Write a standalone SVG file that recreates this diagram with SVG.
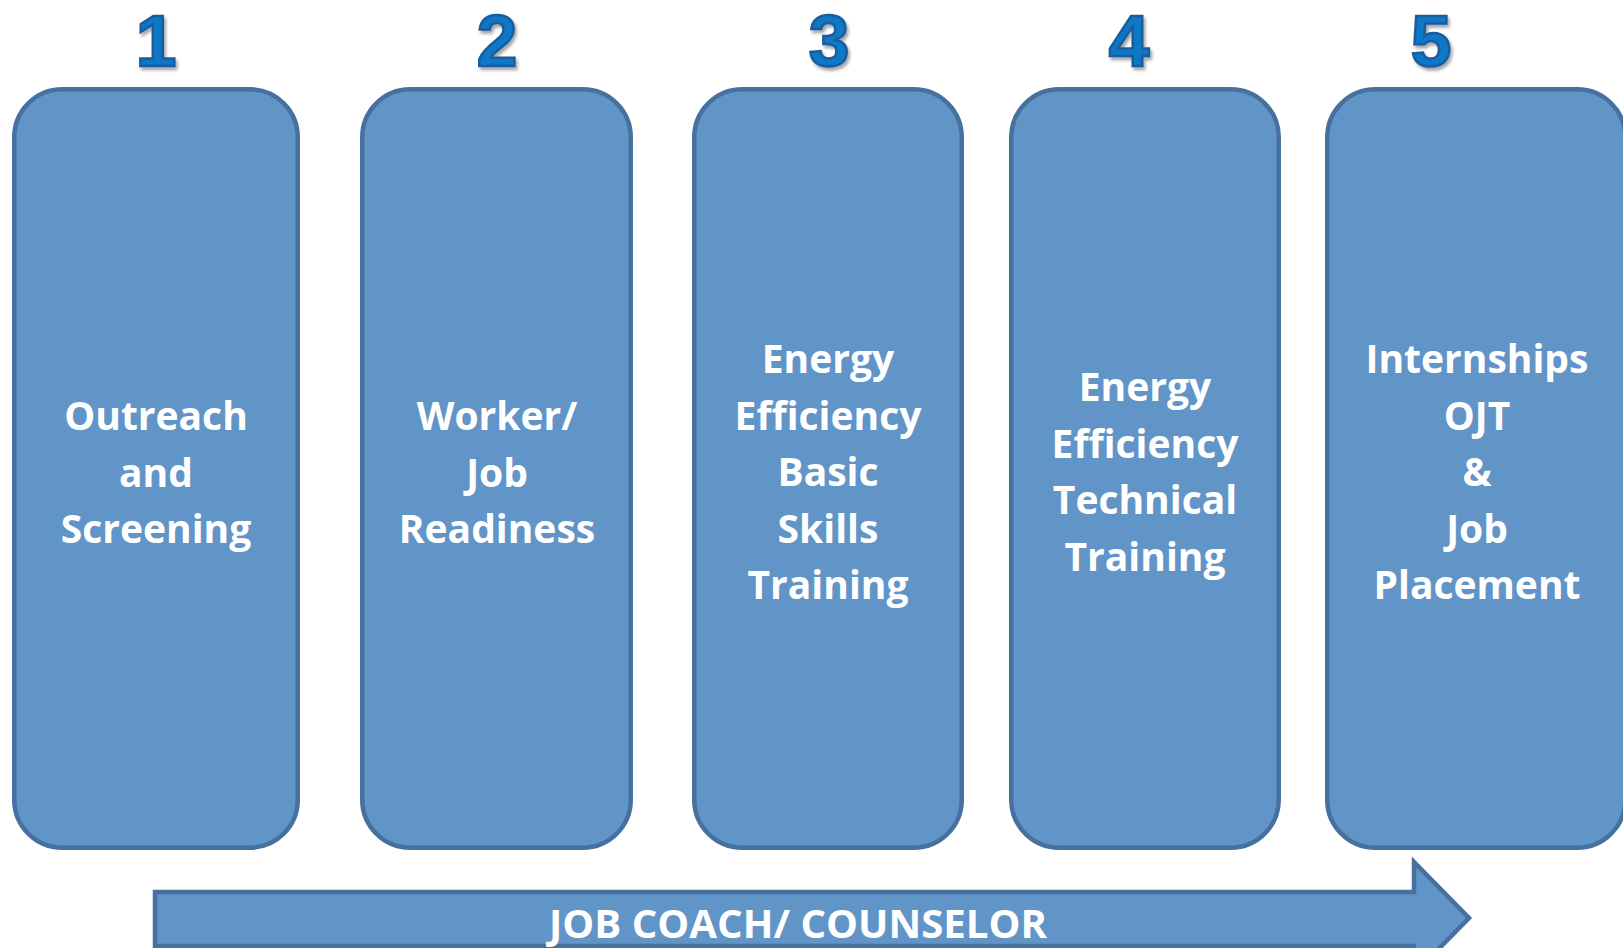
<svg xmlns="http://www.w3.org/2000/svg" width="1623" height="948" viewBox="0 0 1623 948">
<defs>
<style>
.box{fill:#6195C8;stroke:#46709E;stroke-width:4.5}
.lbl{font-family:"Open Sans","Liberation Sans",sans-serif;font-weight:700;font-size:39px;fill:#FFFFFF;text-anchor:middle}
.num{font-family:"Liberation Sans",Arial,sans-serif;font-weight:700;font-size:73px;fill:#0A78C8;stroke:#1B5C9C;stroke-width:2.5;text-anchor:middle;filter:url(#sh)}
.arrow{fill:#6195C8;stroke:#46709E;stroke-width:4.5}
</style>
<filter id="sh" x="-20%" y="-20%" width="150%" height="150%">
<feDropShadow dx="2" dy="3" stdDeviation="1.5" flood-color="#000000" flood-opacity="0.35"/>
</filter>
</defs>
<rect width="1623" height="948" fill="#FFFFFF"/>
<g id="connectors">
<polygon class="arrow" points="155,892 1414,892 1414,862 1469,918 1414,974 1414,946 155,946"/>
<text class="lbl" x="798" y="938" textLength="498" lengthAdjust="spacingAndGlyphs">JOB COACH/ COUNSELOR</text>
</g>
<g id="step1">
<text class="num" x="156" y="66">1</text>
<rect class="box" x="14.25" y="89.25" width="283.5" height="758.5" rx="48" ry="48"/>
<text class="lbl"><tspan x="156" y="430">Outreach</tspan><tspan x="156" y="486.5">and</tspan><tspan x="156" y="543">Screening</tspan></text>
</g>
<g id="step2">
<text class="num" x="497" y="66">2</text>
<rect class="box" x="362.25" y="89.25" width="268.5" height="758.5" rx="48" ry="48"/>
<text class="lbl"><tspan x="497" y="430">Worker/</tspan><tspan x="497" y="486.5">Job</tspan><tspan x="497" y="543">Readiness</tspan></text>
</g>
<g id="step3">
<text class="num" x="829" y="66">3</text>
<rect class="box" x="694.25" y="89.25" width="267.5" height="758.5" rx="48" ry="48"/>
<text class="lbl"><tspan x="828" y="373">Energy</tspan><tspan x="828" y="429.5">Efficiency</tspan><tspan x="828" y="486">Basic</tspan><tspan x="828" y="542.5">Skills</tspan><tspan x="828" y="599">Training</tspan></text>
</g>
<g id="step4">
<text class="num" x="1129" y="66">4</text>
<rect class="box" x="1011.25" y="89.25" width="267.5" height="758.5" rx="48" ry="48"/>
<text class="lbl"><tspan x="1145" y="401">Energy</tspan><tspan x="1145" y="457.5">Efficiency</tspan><tspan x="1145" y="514">Technical</tspan><tspan x="1145" y="570.5">Training</tspan></text>
</g>
<g id="step5">
<text class="num" x="1431" y="66">5</text>
<rect class="box" x="1327.25" y="89.25" width="298" height="758.5" rx="48" ry="48"/>
<text class="lbl"><tspan x="1477" y="373">Internships</tspan><tspan x="1477" y="429.5">OJT</tspan><tspan x="1477" y="486">&amp;</tspan><tspan x="1477" y="542.5">Job</tspan><tspan x="1477" y="599">Placement</tspan></text>
</g>
</svg>
